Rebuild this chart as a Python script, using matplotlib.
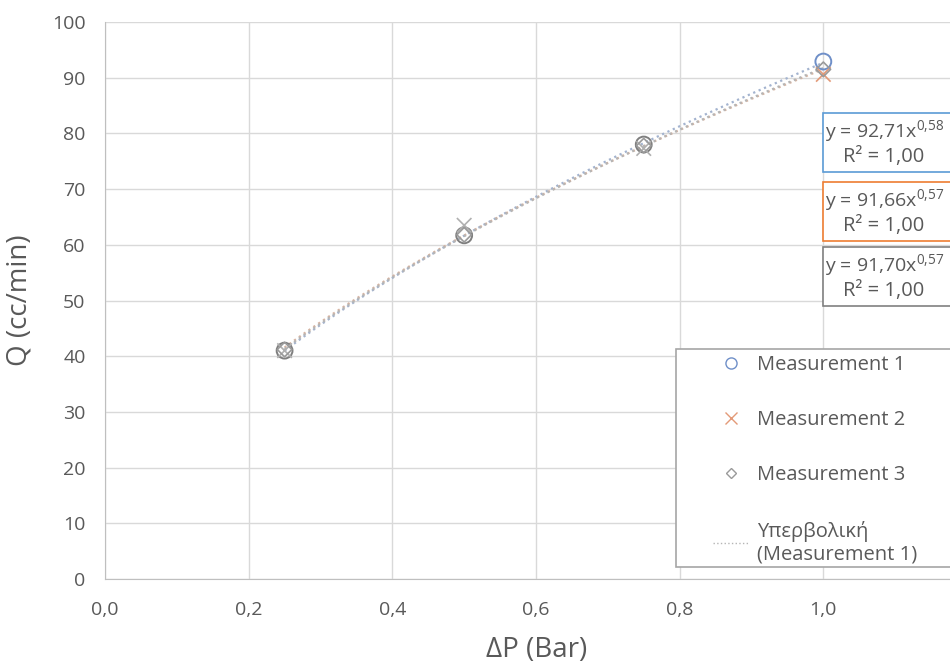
import numpy as np
import matplotlib
matplotlib.use("Agg")
import matplotlib.pyplot as plt
from matplotlib.patches import Rectangle
from matplotlib.ticker import FuncFormatter

plt.rcParams['font.family'] = ['Open Sans', 'DejaVu Sans']
plt.rcParams['mathtext.fontset'] = 'custom'
plt.rcParams['mathtext.rm'] = 'Open Sans'
plt.rcParams['mathtext.it'] = 'Open Sans'
plt.rcParams['mathtext.default'] = 'regular'

# data
dp = [0.25, 0.50, 0.75, 1.00]
q1 = [41.0, 61.7, 78.0, 92.9]
q2 = [41.0, 63.5, 77.3, 90.6]
q3 = [41.2, 61.8, 77.8, 91.5]

labels = ['Measurement 1', 'Measurement 2', 'Measurement 3']
trend_label = 'Υπερβολική\n(Measurement 1)'
eq_lines = ['y = 92,71x$^{0{,}58}$', 'y = 91,66x$^{0{,}57}$', 'y = 91,70x$^{0{,}57}$']
r2_lines = ['R² = 1,00', 'R² = 1,00', 'R² = 1,00']

W, H = 950, 666
fig = plt.figure(figsize=(9.5, 6.66), dpi=100)
ax = fig.add_axes([105 / W, 1 - 579 / H, (967 - 105) / W, (579 - 22) / H])

grid_c = '#d9d9d9'
text_c = '#595959'

# power trendlines fitted in log space (like Excel)
trend_colors = ['#a3b3cf', '#d6b4a2', '#b5b5b5']
xs = np.linspace(min(dp), max(dp), 60)
for q, c in zip([q1, q2, q3], trend_colors):
    b, lna = np.polyfit(np.log(dp), np.log(q), 1)
    ax.plot(xs, np.exp(lna) * xs ** b, ls=':', lw=1.6, color=c, zorder=2)

# markers: the last point keeps the series colour, the others look grey
c1 = ['#7f7f7f'] * 3 + ['#6f8fc8']
c2 = ['#b0b0b0'] * 3 + ['#e39a78']
ax.scatter(dp, q1, s=130, marker='o', facecolors='none', edgecolors=c1, linewidths=1.4, zorder=4)
ax.scatter(dp, q2, s=110, marker='x', c=c2, linewidths=1.2, zorder=4)
ax.scatter(dp, q3, s=55, marker='D', facecolors='none', edgecolors='#9a9a9a', linewidths=1.2, zorder=4)

ax.set_xlim(0, 1.2)
ax.set_ylim(0, 100)
ax.set_xticks(np.arange(0, 1.21, 0.2))
ax.set_yticks(np.arange(0, 101, 10))
# the 1,2 label falls outside the picture in the reference
ax.xaxis.set_major_formatter(FuncFormatter(
    lambda v, p: '' if v > 1.1 else f'{v:.1f}'.replace('.', ',')))
ax.grid(True, color=grid_c, lw=1)
ax.set_axisbelow(True)
for s in ['top', 'right']:
    ax.spines[s].set_visible(False)
for s in ['left', 'bottom']:
    ax.spines[s].set_color('#bfbfbf')
ax.tick_params(length=0, labelsize=14, colors=text_c)
ax.tick_params(axis='y', pad=14)
ax.tick_params(axis='x', pad=16)

fig.text(20 / W, 1 - 300 / H, 'Q (cc/min)', rotation=90, ha='center', va='center',
         fontsize=20, color=text_c)
fig.text(537 / W, 1 - 650 / H, 'ΔP (Bar)', ha='center', va='center',
         fontsize=20, color=text_c)

# equation boxes
box_colors = ['#5b9bd5', '#ed7d31', '#808080']
box_tops = [113, 182, 247]
for e, r, c, y0 in zip(eq_lines, r2_lines, box_colors, box_tops):
    fig.patches.append(Rectangle((823 / W, 1 - (y0 + 59) / H), 140 / W, 59 / H,
                                 transform=fig.transFigure, fc='white', ec=c, lw=1.2, zorder=5))
    fig.text(825 / W, 1 - (y0 + 18) / H, e, ha='left', va='center',
             fontsize=14, color=text_c, zorder=6)
    fig.text(884 / W, 1 - (y0 + 44) / H, r, ha='center', va='center',
             fontsize=14.5, color=text_c, zorder=6)

# legend
h1 = plt.Line2D([], [], ls='none', marker='o', ms=8, mfc='none', mec='#6f8fc8', mew=1)
h2 = plt.Line2D([], [], ls='none', marker='x', ms=9, mec='#e39a78', mew=1)
h3 = plt.Line2D([], [], ls='none', marker='D', ms=5.5, mfc='none', mec='#9a9a9a', mew=1)
h4 = plt.Line2D([], [], ls=':', lw=1, color='#b5b5b5')
fig.patches.append(Rectangle((676 / W, 1 - 567 / H), 290 / W, (567 - 349) / H,
                             transform=fig.transFigure, fc='white', ec='#a6a6a6', lw=1.2, zorder=5))
leg = fig.legend([h1, h2, h3, h4], labels + [trend_label], loc='upper left',
                 bbox_to_anchor=(713 / W, 1 - 355 / H), frameon=False, fontsize=14.5,
                 handlelength=1.75, handletextpad=0.45, labelspacing=1.75,
                 borderpad=0, borderaxespad=0)
leg.set_zorder(6)
for t in leg.get_texts():
    t.set_color(text_c)

fig.savefig('out.png', dpi=100)
